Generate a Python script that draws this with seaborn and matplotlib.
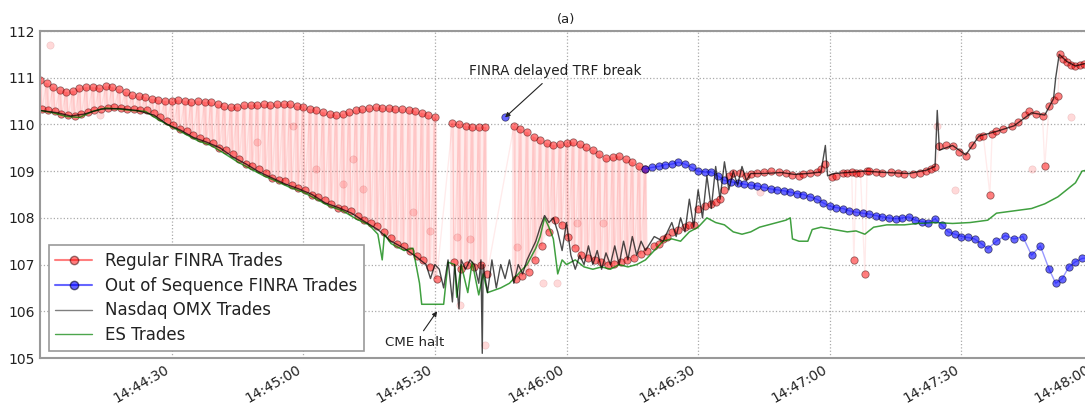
import pandas as pd
import matplotlib.pyplot as plt
import matplotlib.dates as mdates
from matplotlib.lines import Line2D
import seaborn as sns

base = pd.Timestamp("2010-05-06 14:44:00")

# seconds after 14:44:00 and prices
# delayed FINRA prints (upper band) and the timely prints that go with them (lower band)
t_pre = [0, 1.5, 3, 4.5, 6, 7.5, 9, 10.5, 12, 13.5,
         15, 16.5, 18, 19.5, 21, 22.5, 24, 25.5, 27, 28.5,
         30, 31.5, 33, 34.5, 36, 37.5, 39, 40.5, 42, 43.5,
         45, 46.5, 48, 49.5, 51, 52.5, 54, 55.5, 57, 58.5,
         60, 61.5, 63, 64.5, 66, 67.5, 69, 70.5, 72, 73.5,
         75, 76.5, 78, 79.5, 81, 82.5, 84, 85.5, 87, 88.5,
         90,
         94, 95.5, 97, 98.5, 100, 101.5,
         108, 109.5, 111, 112.5, 114, 115.5, 117, 118.5, 120, 121.5,
         123, 124.5, 126, 127.5, 129, 130.5, 132, 133.5, 135, 136.5,
         138]
seg_pre = [1] * 61 + [2] * 6 + [3] * 21
finra_delayed = [110.96, 110.88, 110.8, 110.74, 110.7, 110.72, 110.78, 110.8, 110.8, 110.79,
                 110.82, 110.8, 110.75, 110.7, 110.62, 110.6, 110.58, 110.55, 110.52, 110.5,
                 110.5, 110.52, 110.5, 110.48, 110.5, 110.49, 110.47, 110.43, 110.4, 110.37,
                 110.38, 110.41, 110.42, 110.42, 110.43, 110.41, 110.43, 110.44, 110.43, 110.4,
                 110.38, 110.33, 110.3, 110.26, 110.22, 110.2, 110.22, 110.27, 110.3, 110.32,
                 110.35, 110.37, 110.36, 110.35, 110.33, 110.32, 110.3, 110.28, 110.25, 110.2,
                 110.15,
                 110.04, 110.0, 109.97, 109.95, 109.94, 109.95,
                 109.96, 109.9, 109.83, 109.74, 109.66, 109.6, 109.56, 109.58, 109.6, 109.62,
                 109.58, 109.52, 109.45, 109.36, 109.28, 109.3, 109.32, 109.26, 109.2, 109.12,
                 109.05]
finra_timely = [110.32, 110.3, 110.28, 110.22, 110.2, 110.18, 110.22, 110.27, 110.3, 110.34,
                110.36, 110.37, 110.35, 110.34, 110.33, 110.31, 110.3, 110.24, 110.15, 110.07,
                109.98, 109.9, 109.85, 109.78, 109.7, 109.64, 109.6, 109.5, 109.45, 109.36,
                109.25, 109.15, 109.1, 109.04, 108.95, 108.86, 108.82, 108.78, 108.7, 108.63,
                108.6, 108.5, 108.45, 108.38, 108.3, 108.22, 108.2, 108.14, 108.05, 107.95,
                107.9, 107.82, 107.7, 107.56, 107.45, 107.4, 107.3, 107.18, 107.1, 106.95,
                106.7,
                107.05, 106.9, 107.0, 106.95, 107.0, 106.8,
                106.7, 106.75, 106.85, 107.1, 107.4, 107.7, 107.95, 107.85, 107.6, 107.35,
                107.2, 107.15, 107.1, 107.05, 107.0, 107.02, 107.05, 107.1, 107.15, 107.22,
                107.3]

t_late = [140, 141, 142, 143, 144, 145.5, 147, 148, 149, 150,
          151.5, 153, 154, 155, 156, 157, 158, 159.5, 161, 162,
          163.5, 165, 166.5, 168.5, 170, 171.5, 173, 174, 175.5, 177,
          178, 179, 180.5, 181.5, 183, 184, 185, 185.5, 186, 187,
          188, 188.5, 189, 190.5, 192, 194, 195.5, 197, 199, 200.5,
          202, 203, 204, 205, 206.5, 208, 209.5, 211, 212.5, 214,
          215, 216.5, 217, 218, 219.5, 221.5, 223, 224.5, 225.5, 227,
          228.5, 229, 230, 231, 232, 232.5, 233.2, 234, 235, 236,
          237, 238, 239]
finra_late = [107.4, 107.45, 107.55, 107.6, 107.7, 107.75, 107.8, 107.85, 107.85, 108.2,
              108.25, 108.3, 108.35, 108.4, 108.6, 108.9, 108.95, 108.95, 108.9, 108.94,
              108.96, 108.98, 109.0, 108.98, 108.95, 108.92, 108.9, 108.94, 108.96, 108.98,
              109.05, 109.15, 108.87, 108.9, 108.95, 108.97, 108.98, 107.1, 108.95, 108.96,
              106.8, 109.0, 109.0, 108.98, 108.95, 108.98, 108.96, 108.94, 108.94, 108.97,
              109.0, 109.04, 109.08, 109.53, 109.55, 109.53, 109.4, 109.32, 109.55, 109.74,
              109.76, 108.5, 109.8, 109.85, 109.9, 109.96, 110.05, 110.2, 110.28, 110.22,
              110.17, 109.1, 110.4, 110.53, 110.6, 111.5, 111.4, 111.34, 111.28, 111.25,
              111.28, 111.3, 111.25]

t_stray = [2.3, 13.7, 49.4, 57.6, 63, 69, 71.3, 73.6, 85, 88.8, 95, 98, 108.7, 114.6, 117.8,
           122.3, 128.3, 95.7, 101.4, 204.5, 226, 235, 164, 208.5]
finra_stray = [111.7, 110.2, 109.62, 109.96, 109.04, 108.72, 109.25, 108.62, 108.13, 107.72,
               107.6, 107.55, 107.38, 106.6, 106.6, 107.9, 107.9, 106.13, 105.28, 109.96,
               109.04, 110.15, 108.55, 108.6]

t_oos = [106,
         138, 139.5, 141, 142.5, 144, 145.5, 147, 148.5, 150, 151.5,
         153, 154.5, 156, 157.5, 159, 160.5, 162, 163.5, 165, 166.5,
         168, 169.5, 171, 172.5, 174, 175.5, 177, 178.5, 180, 181.5,
         183, 184.5, 186, 187.5, 189, 190.5, 192, 193.5, 195, 196.5,
         198, 199.5, 201, 202.5, 204, 205.5, 207, 208.5, 210, 211.5,
         213, 214.5, 216, 218, 220, 222, 224, 226, 228, 230,
         231.5, 233, 234.5, 236, 237.5, 239]
seg_oos = [1] + [2] * 66
finra_oos = [110.15,
             109.05, 109.08, 109.1, 109.14, 109.15, 109.19, 109.15, 109.08, 109.0, 108.98,
             108.98, 108.9, 108.8, 108.77, 108.75, 108.72, 108.7, 108.68, 108.65, 108.62,
             108.6, 108.58, 108.55, 108.52, 108.5, 108.45, 108.4, 108.32, 108.25, 108.22,
             108.2, 108.15, 108.12, 108.1, 108.08, 108.05, 108.02, 108.0, 107.98, 108.0,
             108.02, 107.95, 107.92, 107.9, 107.98, 107.85, 107.7, 107.65, 107.6, 107.58,
             107.55, 107.45, 107.34, 107.5, 107.62, 107.55, 107.6, 107.2, 107.4, 106.9,
             106.6, 106.7, 106.95, 107.06, 107.13, 107.15]

t_nasdaq = [0, 4, 7, 10, 14, 18, 22, 26, 29, 32, 35, 38, 41, 44, 47, 50, 53, 56, 59, 62, 65,
            68, 71, 74, 77, 80, 83, 86, 88, 89, 90, 91, 92, 93, 94, 94.5, 95.5, 96, 97, 98,
            99, 100, 100.5, 100.8, 101, 102, 103, 104, 105, 106, 107, 108, 109, 110, 111,
            112, 113, 114, 115, 116, 117, 118, 119, 120, 121, 122, 123, 124, 125, 126, 127,
            128, 129, 130, 131, 132, 133, 134, 135, 136, 137, 138, 140, 142, 144, 145, 146,
            147, 148, 149, 150, 151, 152, 153, 154, 155, 156, 157, 158, 159, 160, 161, 162,
            165, 169, 172, 175, 178, 179, 179.5, 181, 184, 188, 193, 198, 202, 204, 204.5,
            205, 208, 211, 214, 218, 222, 226, 229, 231, 231.5, 232.3, 234, 236, 238, 240]
nasdaq = [110.3, 110.25, 110.18, 110.22, 110.33, 110.34, 110.3, 110.2, 110.0, 109.88, 109.72,
          109.62, 109.5, 109.3, 109.15, 108.98, 108.85, 108.72, 108.62, 108.5, 108.32, 108.22,
          108.1, 107.92, 107.75, 107.5, 107.35, 107.15, 107.0,
          106.7, 107.0, 106.9, 106.5, 107.1, 106.2, 107.0, 106.05, 107.1, 106.9, 107.1, 107.0,
          106.6, 107.1, 105.1, 107.0, 106.4, 107.1, 106.5, 107.0, 106.7, 107.1, 106.6, 107.0,
          106.8, 107.1,
          107.3, 107.5, 107.8, 108.05, 107.9, 108.0, 107.7, 107.3, 107.9, 107.2, 106.9, 107.2,
          107.0, 107.4, 107.0, 107.3, 106.9, 107.25, 107.0, 107.4, 107.0, 107.5, 107.1, 107.6,
          107.2, 107.5, 107.3,
          107.6, 107.5, 107.9, 107.6, 108.0, 107.7, 108.4, 107.8, 108.6, 108.0, 108.9, 108.2,
          109.1, 108.4, 109.2, 108.6, 109.0, 108.7, 109.1, 108.8, 108.95,
          108.95, 108.97, 108.93, 108.95, 108.98, 109.55, 108.9, 108.95, 108.97, 109.0, 108.97,
          108.95, 109.02, 109.1, 110.3, 109.45, 109.55, 109.35, 109.75, 109.85, 109.97, 110.25,
          110.2, 110.55, 111.0, 111.5, 111.35, 111.25, 111.3, 111.3]

t_es = [0, 3, 6, 9, 12, 15, 18, 21, 24, 27, 30, 33, 36, 39, 42, 45, 48, 51, 54, 57, 60, 63,
        66, 69, 72, 75, 77, 78, 78.5, 80, 83, 85, 86.5, 87, 92, 93, 94.5, 95, 96, 97.5, 98.5,
        100, 101, 102, 103.5, 105, 107, 109, 111, 113, 114, 115, 116, 117, 118, 119, 120,
        122, 124, 126, 128, 130, 132, 134, 136, 138, 140, 142, 144, 146, 148, 150, 152, 154,
        156, 158, 160, 162, 164, 166, 168, 170, 171, 171.5, 173, 175, 176, 178, 181, 184,
        186, 188, 190, 193, 197, 200, 204, 208, 212, 216, 218, 222, 226, 229, 232, 234, 236,
        237.5, 240]
es = [110.3, 110.25, 110.17, 110.15, 110.28, 110.35, 110.33, 110.3, 110.28, 110.1, 109.95,
      109.8, 109.65, 109.55, 109.38, 109.2, 109.05, 108.9, 108.78, 108.65, 108.55, 108.4,
      108.25, 108.15, 107.98, 107.85, 107.65, 107.1, 107.65, 107.45, 107.3, 107.35, 106.6,
      106.15, 106.15, 107.05, 107.0, 106.3, 107.0, 106.4, 107.05, 106.35, 106.8, 106.4,
      106.45, 106.5, 106.6, 106.8, 107.0, 107.35, 107.6, 108.0, 107.8, 107.55, 106.8, 107.1,
      107.0, 107.1, 106.95, 106.9, 106.95, 106.9, 107.0, 106.95, 107.0, 107.1, 107.3, 107.5,
      107.55, 107.5, 107.7, 107.8, 108.0, 107.9, 107.85, 107.7, 107.65, 107.7, 107.8, 107.85,
      107.9, 107.95, 108.0, 107.55, 107.5, 107.5, 107.75, 107.8, 107.75, 107.7, 107.72,
      107.65, 107.8, 107.85, 107.85, 107.88, 107.9, 107.88, 107.9, 107.95, 108.1, 108.15,
      108.2, 108.3, 108.45, 108.6, 108.75, 109.0, 109.05]


def to_time(sec):
    return base + pd.to_timedelta(sec, unit="s")


# regular trades in print order: each delayed print followed by a timely one
pre = pd.DataFrame({"t": t_pre, "seg": seg_pre, "hi": finra_delayed, "lo": finra_timely})
pre["time"] = to_time(pre["t"])
rows = []
for _, r in pre.iterrows():
    rows.append((r["t"], r["hi"]))
    rows.append((r["t"] + 0.4, r["lo"]))
regular = pd.DataFrame(rows + list(zip(t_late, finra_late)), columns=["t", "price"])
regular["time"] = to_time(regular["t"])
stray = pd.DataFrame({"time": to_time(pd.Series(t_stray)), "price": finra_stray})
oos = pd.DataFrame({"time": to_time(pd.Series(t_oos)), "price": finra_oos, "seg": seg_oos})
ndq = pd.DataFrame({"time": to_time(pd.Series(t_nasdaq)), "price": nasdaq})
esf = pd.DataFrame({"time": to_time(pd.Series(t_es)), "price": es})

sns.set_style("white")
plt.rcParams["font.family"] = ["DejaVu Sans"]
fig = plt.figure(figsize=(10.85, 4.04), dpi=100)
ax = fig.add_axes([40 / 1085, 1 - 358 / 404, 1053 / 1085, 327 / 404])

# pink curtain between delayed and timely prints
for s, g in pre.groupby("seg"):
    ax.fill_between(g["time"], g["lo"], g["hi"], color="red", alpha=0.07, lw=0)
ax.vlines(pre["time"], pre["lo"], pre["hi"], color="red", alpha=0.09, lw=3)
sns.lineplot(data=regular, x="time", y="price", sort=False, estimator=None,
             color="red", alpha=0.08, lw=1, ax=ax)
sns.scatterplot(data=stray, x="time", y="price", color="red", alpha=0.15,
                edgecolor="darkred", s=28, ax=ax)
sns.lineplot(data=esf, x="time", y="price", sort=False, estimator=None,
             color="green", alpha=0.75, lw=1.1, ax=ax)
sns.scatterplot(data=regular, x="time", y="price", color="red", alpha=0.5,
                edgecolor="#300", linewidth=0.6, s=28, ax=ax)
sns.lineplot(data=oos, x="time", y="price", units="seg", estimator=None, sort=False,
             color="blue", alpha=0.4, lw=1, ax=ax)
sns.scatterplot(data=oos, x="time", y="price", color="blue", alpha=0.6,
                edgecolor="#002", linewidth=0.6, s=28, ax=ax)
sns.lineplot(data=ndq, x="time", y="price", sort=False, estimator=None,
             color="black", alpha=0.7, lw=1, ax=ax)

ax.set_xlim(base, to_time(240))
ax.set_ylim(105, 112)
ax.set_yticks([105, 106, 107, 108, 109, 110, 111, 112])
ax.set_xticks(list(to_time(pd.Series([30, 60, 90, 120, 150, 180, 210, 240]))))
ax.xaxis.set_major_formatter(mdates.DateFormatter("%H:%M:%S"))
plt.setp(ax.get_xticklabels(), rotation=30, ha="right")
ax.tick_params(labelsize=10, colors="#222", direction="in", length=4)
ax.set_xlabel("")
ax.set_ylabel("")
ax.grid(True, ls=":", color="#aaa", lw=0.9)
for sp in ax.spines.values():
    sp.set_color("#999")
    sp.set_linewidth(1.5)
ax.set_title("(a)", fontsize=9.5, color="#222")

ax.annotate("FINRA delayed TRF break", xy=(to_time(106), 110.15), xytext=(to_time(117.5), 111.05),
            fontsize=9.8, color="#222", ha="center",
            arrowprops=dict(arrowstyle="-|>", color="#222", lw=0.8, mutation_scale=7,
                            shrinkA=2, shrinkB=0))
ax.annotate("CME halt", xy=(to_time(90.5), 106.0), xytext=(to_time(85.5), 105.25),
            fontsize=9.6, color="#222", ha="center",
            arrowprops=dict(arrowstyle="-|>", color="#222", lw=0.8, mutation_scale=7,
                            shrinkA=2, shrinkB=0))

handles = [
    Line2D([], [], color="red", alpha=0.5, marker="o", markerfacecolor="red",
           markeredgecolor="#300", markersize=6),
    Line2D([], [], color="blue", alpha=0.6, marker="o", markerfacecolor="blue",
           markeredgecolor="#002", markersize=6),
    Line2D([], [], color="black", alpha=0.5, lw=1),
    Line2D([], [], color="green", alpha=0.7, lw=1),
]
labels = ["Regular FINRA Trades", "Out of Sequence FINRA Trades", "Nasdaq OMX Trades", "ES Trades"]
leg = ax.legend(handles, labels, loc="lower left", bbox_to_anchor=(0.005, 0.012),
                fontsize=12, frameon=True, fancybox=False, framealpha=1,
                edgecolor="#999", borderaxespad=0.2, handlelength=2.2, labelspacing=0.4)
leg.get_frame().set_linewidth(1.2)
for txt in leg.get_texts():
    txt.set_color("#222")

fig.savefig("out.png", dpi=100)
